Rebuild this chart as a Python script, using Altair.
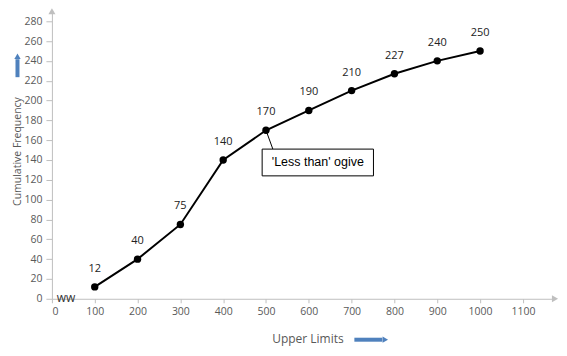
import altair as alt
import pandas as pd

upper_limits = [100, 200, 300, 400, 500, 600, 700, 800, 900, 1000]
cum_freq = [12, 40, 75, 140, 170, 190, 210, 227, 240, 250]
x_ticks = [0, 100, 200, 300, 400, 500, 600, 700, 800, 900, 1000, 1100]
y_ticks = [0, 20, 40, 60, 80, 100, 120, 140, 160, 180, 200, 220, 240, 260, 280]
annotation_text = ["'Less than' ogive"]

XMAX = 1175
YMAX = 290
FONT = "Open Sans"
GRAY_AX = "#bfbfbf"
GRAY_TXT = "#595959"
BLUE = "#4f81bd"

df = pd.DataFrame({"x": upper_limits, "y": cum_freq})

xs = alt.Scale(domain=[0, XMAX], nice=False, zero=True)
ys = alt.Scale(domain=[0, YMAX], nice=False, zero=True)

x_axis = alt.Axis(values=x_ticks, title="Upper Limits", grid=False, format="d",
                  labelOverlap=False,
                  domainColor=GRAY_AX, tickColor=GRAY_AX, tickSize=4,
                  labelColor=GRAY_TXT, labelFont=FONT, labelFontSize=10.5,
                  labelPadding=4, titleColor=GRAY_TXT, titleFont=FONT,
                  titleFontSize=12, titleFontWeight="normal",
                  titleX=256, titleY=40, titleAnchor="middle", titleBaseline="middle")
y_axis = alt.Axis(values=y_ticks, title="Cumulative Frequency", grid=False, format="d",
                  labelOverlap=False,
                  domainColor=GRAY_AX, tickColor=GRAY_AX, tickSize=6,
                  labelColor=GRAY_TXT, labelFont=FONT, labelFontSize=10.5,
                  labelPadding=4, titleColor=GRAY_TXT, titleFont=FONT,
                  titleFontSize=10.5, titleFontWeight="normal",
                  titleX=-34.5, titleY=140, titleAnchor="middle", titleBaseline="middle")

X = lambda: alt.X("x:Q", scale=xs, axis=x_axis)
Y = lambda: alt.Y("y:Q", scale=ys, axis=y_axis)

base = alt.Chart(df)

line = base.mark_line(color="black", strokeWidth=2).encode(x=X(), y=Y())
pts = base.mark_point(filled=True, color="black", size=55, opacity=1).encode(x=X(), y=Y())
labels = base.mark_text(dy=-18, font=FONT, fontSize=11, color="#222222").encode(
    x=X(), y=Y(), text="y:Q")

# axis arrowheads
arrows = pd.DataFrame({"x": [0, XMAX], "y": [YMAX, 0],
                       "shape": ["triangle-up", "triangle-right"]})
arrow_marks = alt.Chart(arrows).mark_point(filled=True, color=GRAY_AX, size=50, opacity=1).encode(
    x=X(), y=Y(), shape=alt.Shape("shape:N", scale=None))

# axis break symbol
brk = alt.Chart(pd.DataFrame({"x": [33], "y": [0], "t": ["ww"]})).mark_text(
    font=FONT, fontSize=12, color="#333333", baseline="middle", dy=-1).encode(
    x=X(), y=Y(), text="t:N")

# annotation callout
box_df = pd.DataFrame({"x": [491], "x2": [751], "y": [124], "y2": [151]})
box = alt.Chart(box_df).mark_rect(fill="white", stroke="black", strokeWidth=1).encode(
    x=X(), x2="x2:Q", y=Y(), y2="y2:Q")
lead_df = pd.DataFrame({"x": [500], "x2": [516], "y": [170], "y2": [151]})
lead = alt.Chart(lead_df).mark_rule(color="black", strokeWidth=1).encode(
    x=X(), x2="x2:Q", y=Y(), y2="y2:Q")
ann = alt.Chart(pd.DataFrame({"x": [621], "y": [137.5], "t": annotation_text})).mark_text(
    font="Liberation Sans", fontSize=12.5, color="black", baseline="middle").encode(
    x=X(), y=Y(), text="t:N")

# blue arrows next to axis titles
bar_df = pd.DataFrame({"a": [0]})
yarrow_bar = alt.Chart(bar_df).mark_rule(color=BLUE, strokeWidth=4).encode(
    x=alt.value(-34.5), y=alt.value(66), y2=alt.value(48))
yarrow_head = alt.Chart(bar_df).mark_point(shape="triangle-up", filled=True, color=BLUE,
                                           size=40, opacity=1).encode(
    x=alt.value(-34.5), y=alt.value(45))
xarrow_bar = alt.Chart(bar_df).mark_rule(color=BLUE, strokeWidth=4).encode(
    x=alt.value(303), x2=alt.value(331), y=alt.value(329))
xarrow_head = alt.Chart(bar_df).mark_point(shape="triangle-right", filled=True, color=BLUE,
                                           size=40, opacity=1).encode(
    x=alt.value(334), y=alt.value(329))

chart = alt.layer(
    line, lead, box, ann, pts, labels, arrow_marks, brk,
    yarrow_bar, yarrow_head, xarrow_bar, xarrow_head,
).properties(
    width=504, height=288,
    background="white",
    autosize=alt.AutoSizeParams(type="none"),
    padding={"left": 44, "top": 3, "right": 4, "bottom": 50},
).configure_view(stroke=None).configure_axis(labelOverlap=False)

chart.save("out.html", embed_options={"renderer": "svg", "actions": False})
